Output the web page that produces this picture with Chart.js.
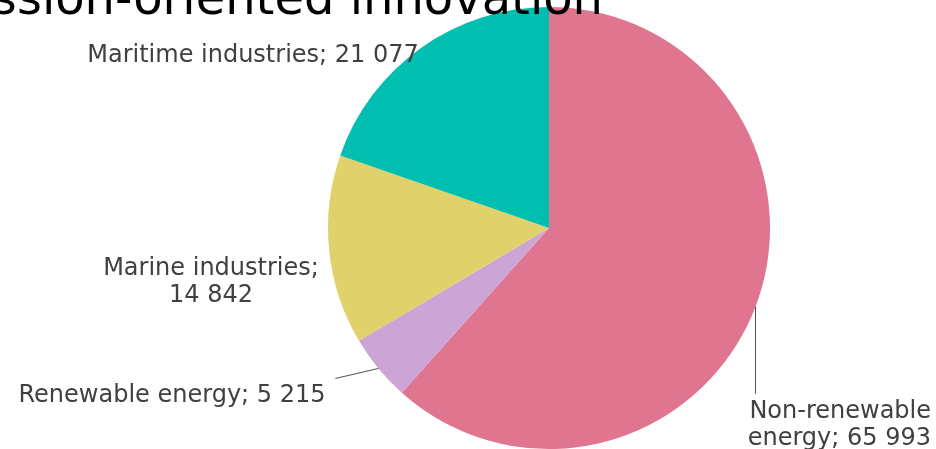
<!DOCTYPE html>
<html>
<head>
<meta charset="utf-8">
<script src="https://cdn.jsdelivr.net/npm/chart.js@4"></script>
<style>
  html, body { margin: 0; padding: 0; background: #fff; overflow: hidden; }
  #pieChart { display: block; }
</style>
</head>
<body>
<canvas id="pieChart" width="936" height="449"></canvas>
<script>
// data
const categories = ['Non-renewable energy', 'Renewable energy', 'Marine industries', 'Maritime industries'];
const values = [65993, 5215, 14842, 21077];
const colors = ['#E07590', '#CDA4D6', '#E0D16A', '#00BEB0'];

const fmt = v => String(v).replace(/\B(?=(\d{3})+(?!\d))/g, ' ');

// label placement per slice (text lines, anchor, alignment, optional leader line end)
const labelLayout = [
  { lines: ['Non-renewable', 'energy; ' + fmt(values[0])], x: 931, y: 418, align: 'right', lead: { dx: 0, dy: 87 } },
  { lines: ['Renewable energy; ' + fmt(values[1])], x: 172, y: 402, align: 'center', lead: { dx: -43, dy: 10 } },
  { lines: ['Marine industries;', fmt(values[2])], x: 211, y: 275, align: 'center' },
  { lines: ['Maritime industries; ' + fmt(values[3])], x: 253, y: 62, align: 'center' }
];

const labelPlugin = {
  id: 'sliceLabels',
  afterDraw(chart) {
    const ctx = chart.ctx;
    const arcs = chart.getDatasetMeta(0).data;
    ctx.save();
    // title, partly cut off at the top like in the source image
    ctx.fillStyle = '#000';
    ctx.font = '48px "DejaVu Sans"';
    ctx.textAlign = 'right';
    ctx.textBaseline = 'alphabetic';
    ctx.fillText('Mission-oriented innovation', 603, 14);

    ctx.font = '24px "DejaVu Sans"';
    ctx.fillStyle = '#404040';
    labelLayout.forEach((l, i) => {
      const a = arcs[i];
      if (l.lead) {
        const p = a.getProps(['x', 'y', 'startAngle', 'endAngle', 'outerRadius'], true);
        const mid = (p.startAngle + p.endAngle) / 2;
        const x0 = p.x + Math.cos(mid) * p.outerRadius;
        const y0 = p.y + Math.sin(mid) * p.outerRadius;
        ctx.strokeStyle = '#505050';
        ctx.lineWidth = 1;
        ctx.beginPath();
        ctx.moveTo(x0, y0);
        ctx.lineTo(x0 + l.lead.dx, y0 + l.lead.dy);
        ctx.stroke();
      }
      ctx.textAlign = l.align;
      l.lines.forEach((t, j) => ctx.fillText(t, l.x, l.y + j * 27));
    });
    ctx.restore();
  }
};

new Chart(document.getElementById('pieChart'), {
  type: 'pie',
  data: {
    labels: categories,
    datasets: [{
      data: values,
      backgroundColor: colors,
      borderWidth: 0
    }]
  },
  options: {
    responsive: false,
    animation: false,
    layout: { padding: { left: 327, right: 165, top: 7, bottom: 0 } },
    plugins: {
      legend: { display: false },
      tooltip: { enabled: false }
    }
  },
  plugins: [labelPlugin]
});
</script>
</body>
</html>
